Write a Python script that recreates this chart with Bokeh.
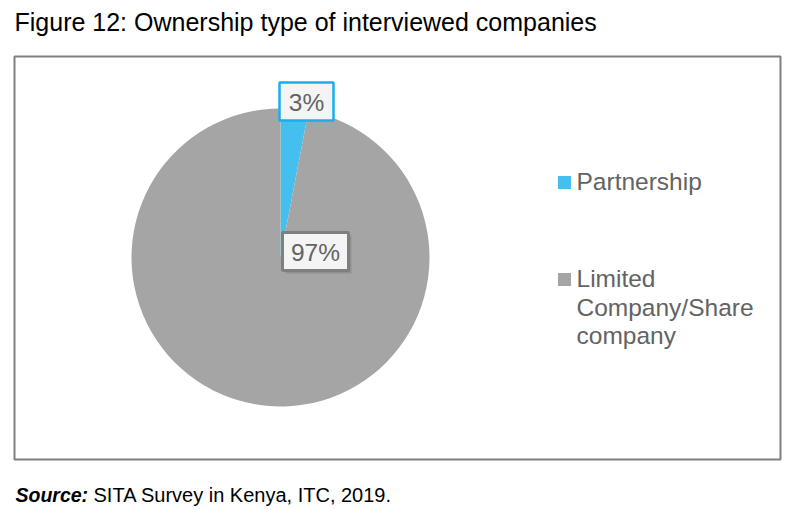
import numpy as np
from bokeh.plotting import figure
from bokeh.models import Range1d, ColumnDataSource
from bokeh.core.properties import value
from bokeh.embed import file_html
from bokeh.resources import INLINE

# ---- data ----
categories = ["Partnership", "Limited Company/Share company"]
legend_lines = [["Partnership"], ["Limited", "Company/Share", "company"]]
shares = [3, 97]
colors = ["#45BFEE", "#A5A5A5"]
label_border = ["#1AAFEC", "#7F7F7F"]

title = "Figure 12: Ownership type of interviewed companies"
source_bold = "Source:"
source_rest = "SITA Survey in Kenya, ITC, 2019."

W, H = 787, 510
FONT = value("Liberation Sans")

def Y(ypx):
    return H - ypx

p = figure(width=W, height=H, output_backend="svg", toolbar_location=None,
           x_range=Range1d(0, W), y_range=Range1d(0, H), min_border=0,
           outline_line_color=None, background_fill_color="white")
p.axis.visible = False
p.grid.visible = False

# chart frame
p.quad(left=[14], right=[780], bottom=[Y(459)], top=[Y(56)],
       fill_color=None, line_color="#7F7F7F", line_width=2)

# pie
cx, cy, r = 280, Y(257), 149
vals = np.array(shares, dtype=float)
frac = vals / vals.sum()
cum = np.concatenate([[0], np.cumsum(frac)])
start = np.pi / 2 - cum[1:] * 2 * np.pi
end = np.pi / 2 - cum[:-1] * 2 * np.pi
src = ColumnDataSource(dict(start=start, end=end, color=colors, cat=categories))
p.wedge(x=cx, y=cy, radius=r, start_angle="start", end_angle="end",
        fill_color="color", line_color=None, source=src)

# data labels (box positions are layout)
label_pos = [(306, 101, 54, 38), (315, 251, 66, 38)]
for i, (lx, ly, lw, lh) in enumerate(label_pos):
    if i == 1:
        p.rect(x=[lx + 3], y=[Y(ly) - 3], width=lw, height=lh,
               fill_color="#8C8C8C", line_color=None, fill_alpha=0.8)
    p.rect(x=[lx], y=[Y(ly)], width=lw, height=lh, fill_color="#F4F4F4",
           line_color=label_border[i], line_width=3 if i == 1 else 2.5)
    p.text(x=[lx], y=[Y(ly + 1)], text=[f"{shares[i]}%"], text_font=FONT,
           text_font_size="24.5px", text_color="#636363",
           text_align="center", text_baseline="middle")

# legend
leg_y = [182, 279]
for i, lines in enumerate(legend_lines):
    p.rect(x=[564], y=[Y(leg_y[i])], width=13, height=13,
           fill_color=colors[i], line_color=None)
    for j, t in enumerate(lines):
        p.text(x=[576], y=[Y(leg_y[i] - 1 + j * 28.5)], text=[t], text_font=FONT,
               text_font_size="24.5px", text_color="#636363",
               text_align="left", text_baseline="middle")

# title
p.text(x=[14], y=[Y(21)], text=[title], text_font=FONT, text_font_size="25px",
       text_color="#000000", text_align="left", text_baseline="middle")

# source
p.text(x=[15], y=[Y(494)], text=[source_bold], text_font=FONT,
       text_font_size="19.5px", text_font_style="bold italic", text_color="#000000",
       text_align="left", text_baseline="middle")
p.text(x=[93], y=[Y(494)], text=[source_rest], text_font=FONT,
       text_font_size="20px", text_color="#000000",
       text_align="left", text_baseline="middle")

open("out.html", "w").write(file_html(p, INLINE))
